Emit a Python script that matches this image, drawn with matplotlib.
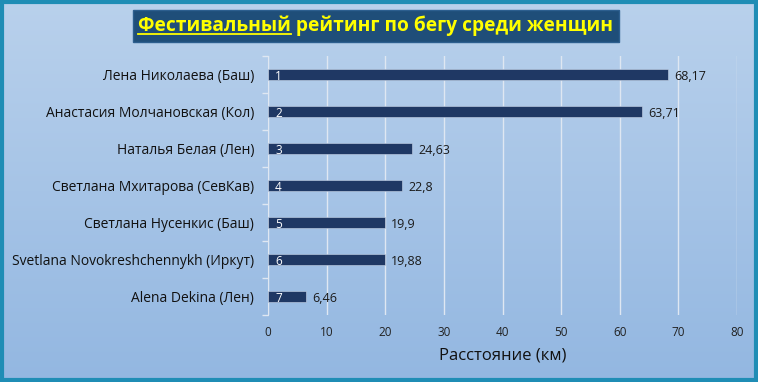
import numpy as np
import matplotlib.pyplot as plt
from matplotlib.patches import Rectangle
from matplotlib.lines import Line2D
from matplotlib.colors import LinearSegmentedColormap

names = ["Лена Николаева (Баш)", "Анастасия Молчановская (Кол)", "Наталья Белая (Лен)",
         "Светлана Мхитарова (СевКав)", "Светлана Нусенкис (Баш)",
         "Svetlana Novokreshchennykh (Иркут)", "Alena Dekina (Лен)"]
distance = [68.17, 63.71, 24.63, 22.8, 19.9, 19.88, 6.46]
value_text = ["68,17", "63,71", "24,63", "22,8", "19,9", "19,88", "6,46"]
ranks = ["1", "2", "3", "4", "5", "6", "7"]
xticks = [0, 10, 20, 30, 40, 50, 60, 70, 80]

plt.rcParams['font.family'] = ['Open Sans', 'DejaVu Sans']

fig = plt.figure(figsize=(7.58, 3.82), dpi=100)

# gradient background
bg = fig.add_axes([0, 0, 1, 1], zorder=-10)
grad = np.linspace(0, 1, 256).reshape(-1, 1)
cmap = LinearSegmentedColormap.from_list("bg", ["#b9d1ec", "#93b7e1"])
bg.imshow(grad, aspect='auto', cmap=cmap, extent=[0, 1, 0, 1])
bg.set_axis_off()
fig.patches.append(Rectangle((0.002, 0.004), 0.996, 0.992, transform=fig.transFigure,
                             fill=False, edgecolor="#1f8db5", linewidth=3, zorder=5))

ax = fig.add_axes([0.3536, 0.175, 0.6187, 0.678])
ax.set_facecolor('none')
y = np.arange(len(names))
ax.barh(y, distance, height=0.3, color="#1f3864", edgecolor="#c8d6ea", linewidth=0.4, zorder=3)
for yi, d, vt, r in zip(y, distance, value_text, ranks):
    ax.text(d + 1.1, yi, vt, va='center_baseline', ha='left', fontsize=9, color='#1a1a1a', zorder=4)
    ax.text(1.2, yi, r, va='center_baseline', ha='left', fontsize=8.5, color='white', zorder=4)

ax.set_xlim(0, 80)
ax.set_ylim(len(names) - 0.5, -0.5)
ax.set_xticks(xticks)
ax.set_xticklabels([str(t) for t in xticks], fontsize=8.5, color='#222222')
ax.tick_params(axis='x', length=0, pad=8)
ax.set_yticks(y)
ax.set_yticklabels(names, fontsize=10, color='#111111', va='center_baseline')
ax.tick_params(axis='y', which='major', length=0, pad=10)
ax.set_yticks(np.arange(-0.5, len(names), 1), minor=True)
ax.tick_params(axis='y', which='minor', length=4, color='#dfe7f2', width=1)
ax.grid(axis='x', color='#dfe7f2', linewidth=1, zorder=0)
for s in ['top', 'right', 'bottom']:
    ax.spines[s].set_visible(False)
ax.spines['left'].set_color('#dfe7f2')
ax.set_xlabel("Расстояние (км)", fontsize=12, color='#111111', labelpad=6)

title = fig.text(0.496, 0.932, "Фестивальный рейтинг по бегу среди женщин", ha='center', va='center',
                 fontsize=13.8, fontweight='bold', color='#ffff00',
                 bbox=dict(boxstyle='square,pad=0.3', facecolor='#1f4e79', edgecolor='#2d5f8f'))

# underline the first word of the title
renderer = fig.canvas.get_renderer()
tb = title.get_window_extent(renderer)
probe = fig.text(0, 0, "Фестивальный", fontsize=13.8, fontweight='bold')
wb = probe.get_window_extent(renderer)
probe.remove()
x0 = tb.x0 / fig.bbox.width
x1 = (tb.x0 + wb.width) / fig.bbox.width
yl = (tb.y0 + 2.5) / fig.bbox.height
fig.add_artist(Line2D([x0, x1], [yl, yl], transform=fig.transFigure, color='#ffff00',
                      linewidth=1.3, zorder=10))

fig.savefig("out.png", dpi=100)
